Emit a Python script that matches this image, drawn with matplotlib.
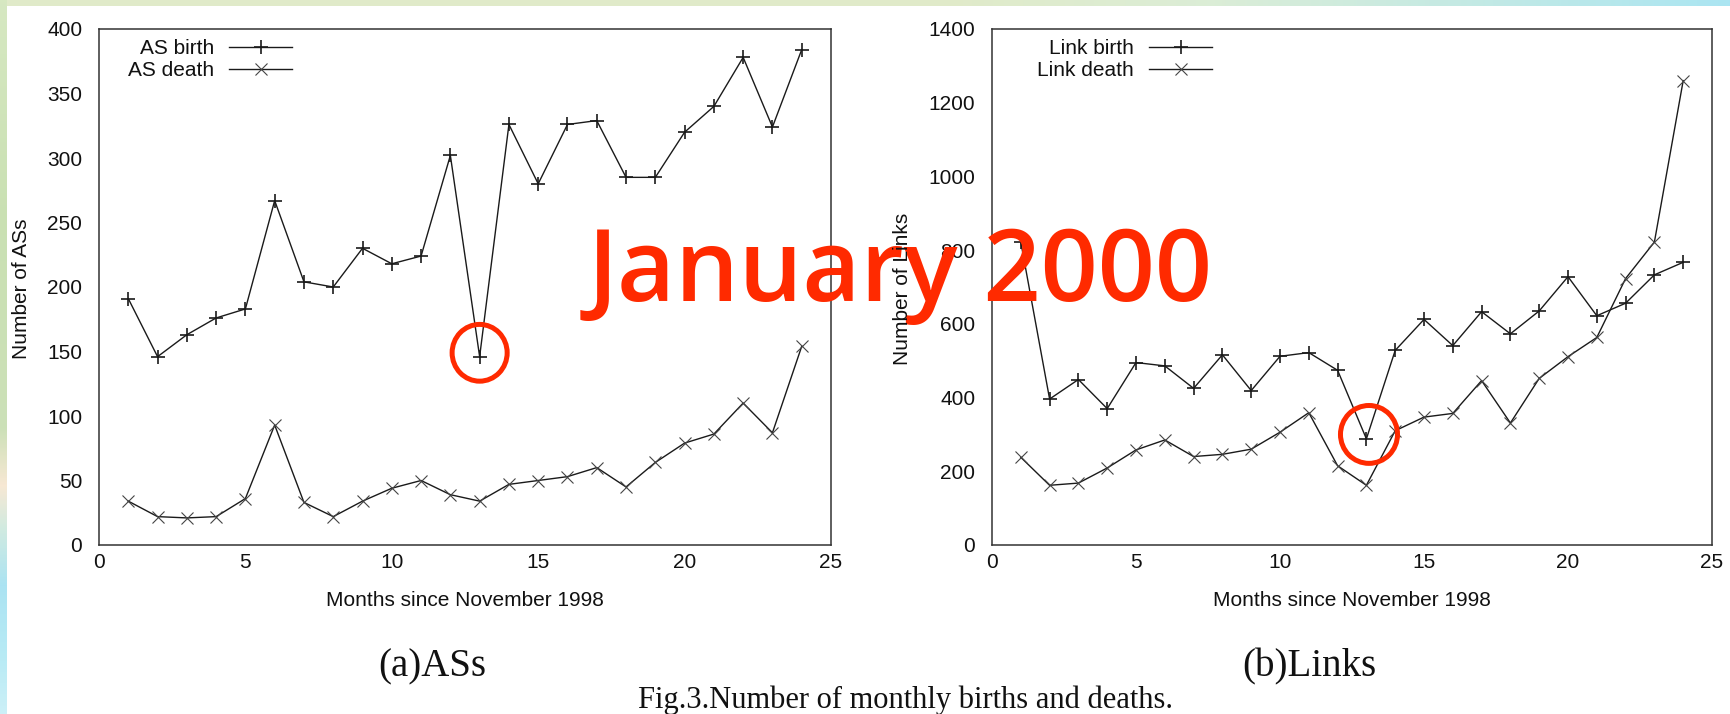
import matplotlib
matplotlib.use("Agg")
import matplotlib.pyplot as plt
import numpy as np
from matplotlib.patches import Ellipse

# Monthly counts, months since November 1998
months = list(range(1, 25))
as_birth = [191, 146, 163, 176, 183, 267, 204, 200, 230, 218, 224, 302,
            146, 326, 280, 326, 329, 285, 285, 320, 340, 378, 324, 384]
as_death = [34, 22, 21, 22, 36, 93, 33, 22, 34, 44, 50, 39,
            34, 47, 50, 53, 60, 45, 64, 79, 86, 110, 87, 154]
link_birth = [822, 396, 449, 370, 495, 486, 425, 516, 419, 512, 522, 474,
              288, 528, 612, 541, 633, 573, 635, 728, 622, 656, 733, 767]
link_death = [238, 162, 168, 209, 258, 285, 240, 246, 260, 306, 359, 215,
              162, 310, 347, 357, 446, 331, 452, 511, 563, 723, 822, 1260]

x_ticks = [0, 5, 10, 15, 20, 25]
as_yticks = list(range(0, 401, 50))
link_yticks = list(range(0, 1401, 200))

SANS = "Liberation Sans"
SERIF = "Liberation Serif"
RED = "#ff2a00"
INK = "#1a1a1a"

W, H = 1731, 714
fig = plt.figure(figsize=(W / 100, H / 100), dpi=100)
fig.patch.set_facecolor("white")


def axes_px(x0, x1, y0, y1, **kw):
    return fig.add_axes([x0 / W, 1 - y1 / H, (x1 - x0) / W, (y1 - y0) / H], **kw)


# slide frame: thin coloured strips along the top and left edges
bg = axes_px(0, W, 0, H, zorder=-10)
img = np.ones((H, W, 3))
top_cols = np.array([[0.88, 0.92, 0.79], [0.88, 0.92, 0.79], [0.86, 0.93, 0.84],
                     [0.67, 0.90, 0.95]])
top_pos = np.array([0.0, 0.55, 0.7, 1.0])
xs = np.linspace(0, 1, W)
top_rgb = np.stack([np.interp(xs, top_pos, top_cols[:, c]) for c in range(3)], axis=1)
img[:6, :, :] = top_rgb[None, :, :]
left_cols = np.array([[0.84, 0.91, 0.76], [0.79, 0.88, 0.70], [0.80, 0.88, 0.72],
                      [0.97, 0.91, 0.83], [0.82, 0.92, 0.88], [0.67, 0.89, 0.95],
                      [0.72, 0.92, 0.96], [0.80, 0.94, 0.97]])
left_pos = np.array([0.0, 0.3, 0.6, 0.68, 0.74, 0.82, 0.92, 1.0])
ys = np.linspace(0, 1, H)
left_rgb = np.stack([np.interp(ys, left_pos, left_cols[:, c]) for c in range(3)], axis=1)
img[:, :7, :] = left_rgb[:, None, :]
bg.imshow(img, aspect="auto", interpolation="bilinear")
bg.set_axis_off()


def style_axes(ax, ymax, yticks):
    ax.set_xlim(0, 25)
    ax.set_ylim(0, ymax)
    ax.set_xticks(x_ticks)
    ax.set_yticks(yticks)
    ax.tick_params(length=0, labelsize=15, colors="#111111")
    ax.tick_params(axis="x", pad=6)
    ax.tick_params(axis="y", pad=12)
    for lab in ax.get_xticklabels() + ax.get_yticklabels():
        lab.set_fontfamily(SANS)
    for sp in ax.spines.values():
        sp.set_linewidth(1.1)
        sp.set_color("#333333")
    ax.set_facecolor("none")


def draw_series(ax, birth, death, names, anchor_x):
    ax.plot(months, birth, color=INK, lw=1.0, marker="+", ms=10, mew=1.2,
            label=names[0])
    ax.plot(months, death, color=INK, lw=1.0, marker="x", ms=9, mew=0.8,
            mec="#444444", label=names[1])
    leg = ax.legend(loc="upper right", bbox_to_anchor=(anchor_x, 0.98),
                    frameon=False, markerfirst=False, numpoints=1,
                    prop={"family": SANS, "size": 15}, handlelength=3.0,
                    handletextpad=0.75, labelspacing=0.12, borderpad=0.0,
                    borderaxespad=0.0)
    for t in leg.get_texts():
        t.set_color("#111111")


ax1 = axes_px(99, 831, 29, 545)
style_axes(ax1, 400, as_yticks)
draw_series(ax1, as_birth, as_death, ["AS birth", "AS death"], (292 - 99) / 732)

ax2 = axes_px(992, 1712, 29, 545)
style_axes(ax2, 1400, link_yticks)
draw_series(ax2, link_birth, link_death, ["Link birth", "Link death"],
            (1212 - 992) / 720)

# axis titles
fig.text(22 / W, 1 - 289 / H, "Number of ASs", rotation=90, ha="center",
         va="center", family=SANS, fontsize=15, color="#111111")
fig.text(903 / W, 1 - 289 / H, "Number of Links", rotation=90, ha="center",
         va="center", family=SANS, fontsize=15, color="#111111")
fig.text(465 / W, 1 - 600 / H, "Months since November 1998", ha="center",
         va="center", family=SANS, fontsize=15, color="#111111")
fig.text(1352 / W, 1 - 600 / H, "Months since November 1998", ha="center",
         va="center", family=SANS, fontsize=15, color="#111111")

# panel captions and figure caption
fig.text(432 / W, 1 - 667 / H, "(a)ASs", ha="center", va="center",
         family=SERIF, fontsize=28, color="#111111")
fig.text(1309 / W, 1 - 667 / H, "(b)Links", ha="center", va="center",
         family=SERIF, fontsize=28, color="#111111")
fig.text(906 / W, 1 - 700 / H, "Fig.3.Number of monthly births and deaths.",
         ha="center", va="center", family=SERIF, fontsize=22, color="#111111")

# highlight the January 2000 dip in both panels
ax1.add_patch(Ellipse((13.0, 149), 1.88, 44, fill=False, ec=RED, lw=3.6,
                      zorder=5, clip_on=False))
ax2.add_patch(Ellipse((13.09, 300), 1.98, 157, fill=False, ec=RED, lw=3.6,
                      zorder=5, clip_on=False))

banner = fig.text(588 / W, 1 - 301 / H, "January 2000", ha="left",
                  va="baseline", family="Open Sans", fontweight="semibold",
                  fontsize=75, color=RED, zorder=1)
fig.canvas.draw()
bb = banner.get_window_extent()
banner.set_fontsize(75 * 626 / bb.width)

fig.savefig("out.png", dpi=100, facecolor="white")
